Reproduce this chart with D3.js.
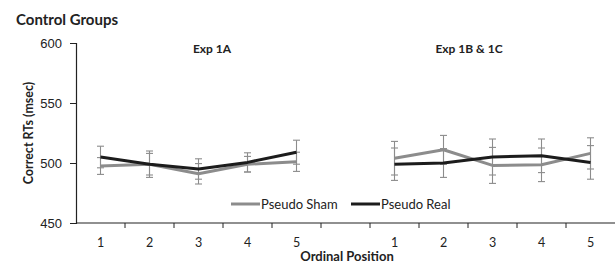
<!DOCTYPE html>
<html lang="en">
<head>
<meta charset="UTF-8">
<title>Control Groups</title>
<script src="https://d3js.org/d3.v7.min.js"></script>
<style>
  body { margin: 0; background: #fff; font-family: 'Lato', 'Open Sans', sans-serif; }
  svg text { fill: #222; }
</style>
</head>
<body>
<div id="chart"></div>
<script>
// positions 1..5 for each panel
const positions = [1, 2, 3, 4, 5];
const panels = ["Exp 1A", "Exp 1B & 1C"];
const yTicks = [450, 500, 550, 600];

// mean RTs (msec) and error bars
const shamA = [497.5, 499, 491, 499, 501];
const shamAErr = [7, 9, 8.5, 6.5, 8];
const realA = [505, 499, 495, 500.5, 509];
const realAErr = [9, 11, 8.5, 8, 10];
const shamB = [504, 511, 498, 498.5, 508];
const shamBErr = [14, 12, 15, 14, 13];
const realB = [499, 500, 505, 506, 500.5];
const realBErr = [13.5, 12, 15, 14, 14];

const W = 616, H = 263;
const margin = { left: 76, right: 1, top: 43, bottom: 40 };

const svg = d3.select("#chart").append("svg")
  .attr("width", W).attr("height", H);

// 11 slots: 5 for Exp 1A, an empty one, 5 for Exp 1B & 1C
const slots = positions.map(p => "A" + p).concat(["gap"], positions.map(p => "B" + p));
const x = d3.scaleBand().domain(slots).range([margin.left, W - margin.right]);
const y = d3.scaleLinear().domain([450, 600]).range([H - margin.bottom, margin.top]);
const cx = k => x(k) + x.bandwidth() / 2;

// y axis
const yAxis = svg.append("g")
  .attr("transform", `translate(${margin.left},0)`)
  .call(d3.axisLeft(y).tickValues(yTicks).tickSize(6).tickPadding(8));
yAxis.select(".domain").attr("stroke", "#222").attr("stroke-width", 1.2);
yAxis.selectAll(".tick line").attr("stroke", "#222");
yAxis.selectAll("text").style("font-size", "13px").attr("fill", "#222");

// x axis: ticks between slots
const xg = svg.append("g").attr("transform", `translate(0,${y(450)})`);
xg.append("line")
  .attr("x1", margin.left).attr("x2", W - margin.right)
  .attr("stroke", "#222").attr("stroke-width", 1.2);
xg.selectAll(".sep").data(slots.slice(1)).enter().append("line")
  .attr("x1", d => x(d)).attr("x2", d => x(d))
  .attr("y1", 0).attr("y2", 5)
  .attr("stroke", "#222");
xg.selectAll(".lab").data(slots.filter(s => s !== "gap")).enter().append("text")
  .attr("x", d => cx(d)).attr("y", 23.5)
  .attr("text-anchor", "middle")
  .style("font-size", "12.5px")
  .text(d => d.slice(1));

// series
const series = [
  { name: "Pseudo Sham", color: "#8c8c8c", parts: [["A", shamA, shamAErr], ["B", shamB, shamBErr]] },
  { name: "Pseudo Real", color: "#1c1c1c", parts: [["B", realB, realBErr], ["A", realA, realAErr]] }
];

// error bars first (all grey)
series.forEach(s => {
  s.parts.forEach(([p, vals, errs]) => {
    const pts = vals.map((v, i) => ({ k: p + positions[i], v, e: errs[i] }));
    const g = svg.append("g").attr("stroke", "#8c8c8c").attr("stroke-width", 1.1);
    g.selectAll(".v").data(pts).enter().append("line")
      .attr("x1", d => cx(d.k)).attr("x2", d => cx(d.k))
      .attr("y1", d => y(d.v - d.e)).attr("y2", d => y(d.v + d.e));
    [-1, 1].forEach(sg => {
      g.selectAll(".c" + sg).data(pts).enter().append("line")
        .attr("x1", d => cx(d.k) - 3.5).attr("x2", d => cx(d.k) + 3.5)
        .attr("y1", d => y(d.v + sg * d.e)).attr("y2", d => y(d.v + sg * d.e));
    });
  });
});

const line = d3.line().x(d => cx(d.k)).y(d => y(d.v));
series.forEach(s => {
  s.parts.forEach(([p, vals]) => {
    const pts = vals.map((v, i) => ({ k: p + positions[i], v }));
    svg.append("path").datum(pts)
      .attr("d", line)
      .attr("fill", "none")
      .attr("stroke", s.color)
      .attr("stroke-width", 3)
      .attr("stroke-linejoin", "round");
  });
});

// legend
const legend = [
  { name: "Pseudo Sham", color: "#8c8c8c", x: 231 },
  { name: "Pseudo Real", color: "#1c1c1c", x: 351 }
];
legend.forEach(l => {
  svg.append("line")
    .attr("x1", l.x).attr("x2", l.x + 29)
    .attr("y1", 204).attr("y2", 204)
    .attr("stroke", l.color).attr("stroke-width", 3);
  svg.append("text")
    .attr("x", l.x + 30).attr("y", 208.5)
    .style("font-size", "13px")
    .text(l.name);
});

// panel titles
svg.selectAll(".ptitle").data(panels).enter().append("text")
  .attr("x", (d, i) => i === 0 ? 212 : 469)
  .attr("y", 53)
  .attr("text-anchor", "middle")
  .style("font-size", "12px").style("font-weight", "bold")
  .text(d => d);

// titles
svg.append("text")
  .attr("x", 16).attr("y", 25)
  .style("font-size", "15px").style("font-weight", "bold")
  .text("Control Groups");

svg.append("text")
  .attr("transform", `translate(33,133) rotate(-90)`)
  .attr("text-anchor", "middle")
  .style("font-size", "12.5px").style("font-weight", "bold")
  .text("Correct RTs (msec)");

svg.append("text")
  .attr("x", 347).attr("y", 260.5)
  .attr("text-anchor", "middle")
  .style("font-size", "13px").style("font-weight", "bold")
  .text("Ordinal Position");
</script>
</body>
</html>
